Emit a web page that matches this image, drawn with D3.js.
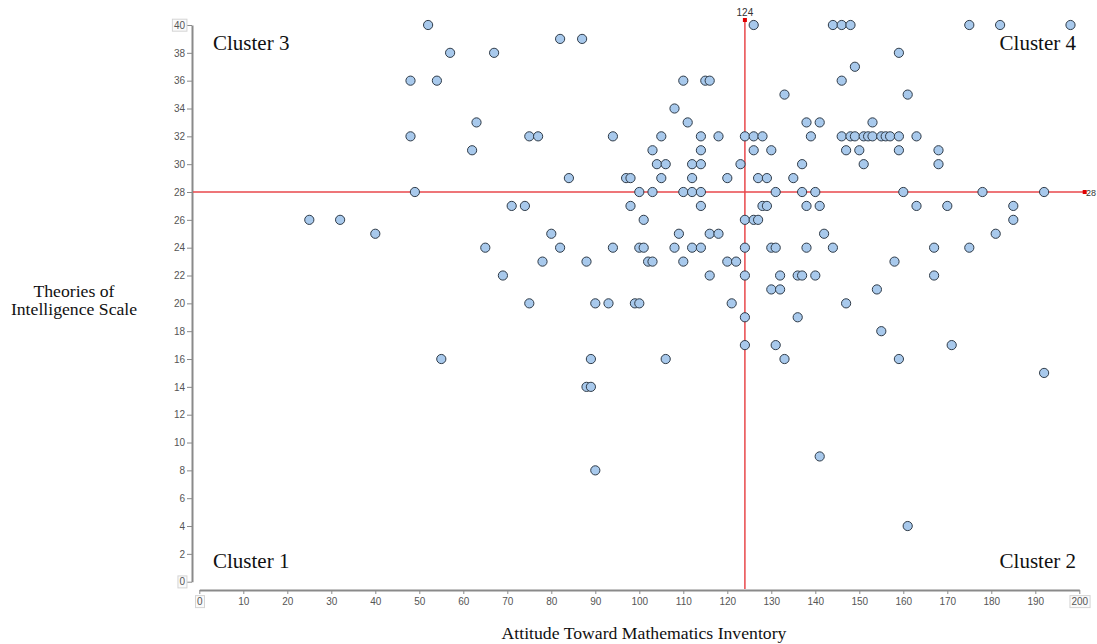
<!DOCTYPE html>
<html>
<head>
<meta charset="utf-8">
<script src="https://cdn.jsdelivr.net/npm/d3@7"></script>
<style>
  html, body { margin: 0; padding: 0; background: #fff; overflow: hidden; }
  svg { display: block; }
</style>
</head>
<body>
<svg id="chart" width="1097" height="644"></svg>
<script>
// ---- Data ----
const xTitle = "Attitude Toward Mathematics Inventory";
const yTitleLines = ["Theories of", "Intelligence Scale"];
const clusterLabels = ["Cluster 1", "Cluster 2", "Cluster 3", "Cluster 4"];
const xTicks = [0, 10, 20, 30, 40, 50, 60, 70, 80, 90, 100, 110, 120, 130, 140, 150, 160, 170, 180, 190, 200];
const yTicks = [0, 2, 4, 6, 8, 10, 12, 14, 16, 18, 20, 22, 24, 26, 28, 30, 32, 34, 36, 38, 40];
const xCut = 124;   // vertical divider (ATMI)
const yCut = 28;    // horizontal divider (TIS)

// Points grouped by Theories of Intelligence score (y) -> list of ATMI scores (x)
const yLevels = [40, 39, 38, 37, 36, 35, 34, 33, 32, 31, 30, 29, 28, 27, 26, 25, 24, 23, 22, 21, 20, 19, 18, 17, 16, 15, 14, 9, 8, 4];
const xAtLevel = [
  [52, 126, 144, 146, 148, 175, 182, 198],
  [82, 87],
  [57, 67, 159],
  [149],
  [48, 54, 110, 115, 116, 146],
  [133, 161],
  [108],
  [63, 111, 138, 141, 153],
  [48, 75, 77, 94, 105, 114, 118, 124, 126, 128, 139, 146, 148, 149, 151, 152, 153, 155, 156, 157, 159, 163],
  [62, 103, 114, 126, 130, 147, 150, 159, 168],
  [104, 106, 112, 114, 123, 137, 151, 168],
  [84, 97, 98, 105, 112, 120, 127, 129, 135],
  [49, 100, 103, 110, 112, 114, 131, 137, 140, 160, 178, 192],
  [71, 74, 98, 114, 128, 129, 138, 141, 163, 170, 185],
  [25, 32, 101, 124, 126, 127, 185],
  [40, 80, 109, 116, 118, 142, 181],
  [65, 82, 94, 100, 101, 108, 112, 114, 124, 130, 131, 138, 144, 167, 175],
  [78, 88, 102, 103, 110, 120, 122, 158],
  [69, 116, 124, 132, 136, 137, 140, 167],
  [130, 132, 154],
  [75, 90, 93, 99, 100, 121, 147],
  [124, 136],
  [155],
  [124, 131, 171],
  [55, 89, 106, 133, 159],
  [192],
  [88, 89],
  [141],
  [90],
  [161]
];

const points = [];
yLevels.forEach((yv, i) => xAtLevel[i].forEach(xv => points.push({ x: xv, y: yv })));

// ---- Layout ----
const svg = d3.select("#chart");
const x = d3.scaleLinear().domain([0, 200]).range([199.3, 1079.3]);
const y = d3.scaleLinear().domain([0, 40]).range([581.7, 25]);
const yAxisX = 192;
const xAxisY = 590;

const tickFont = "'Liberation Sans', Arial, sans-serif";
const serif = "'Liberation Serif', 'Times New Roman', serif";

// Y axis
const gy = svg.append("g")
  .attr("transform", `translate(${yAxisX},0)`)
  .call(d3.axisLeft(y).tickValues(yTicks).tickSize(5).tickSizeOuter(0).tickPadding(2));
gy.select(".domain").attr("stroke", "#8a8a8a").attr("stroke-width", 2);
gy.selectAll(".tick line").attr("stroke", "#8a8a8a");
gy.selectAll(".tick text").attr("fill", "#555").style("font-family", tickFont).style("font-size", "10px");

// X axis
const gx = svg.append("g")
  .attr("transform", `translate(0,${xAxisY})`)
  .call(d3.axisBottom(x).tickValues(xTicks).tickSize(4).tickSizeOuter(0).tickPadding(4));
gx.select(".domain").attr("stroke", "#8a8a8a").attr("stroke-width", 2);
gx.selectAll(".tick line").attr("stroke", "#8a8a8a");
gx.selectAll(".tick text").attr("fill", "#555").style("font-family", tickFont).style("font-size", "10px");

// Light boxes around the first / last tick labels
function boxLabel(textNode) {
  const bb = textNode.getBBox();
  const parent = d3.select(textNode.parentNode);
  parent.insert("rect", "text")
    .attr("x", bb.x - 1.5).attr("y", bb.y - 0.5)
    .attr("width", bb.width + 3).attr("height", bb.height + 1)
    .attr("fill", "#fafafa").attr("stroke", "#d4d4d4").attr("stroke-width", 1);
}
[gy, gx].forEach(g => {
  const texts = g.selectAll(".tick text").nodes();
  boxLabel(texts[0]);
  boxLabel(texts[texts.length - 1]);
});

// Divider lines (red)
const redCol = "#e8474b";
svg.append("line")
  .attr("x1", x(xCut)).attr("x2", x(xCut))
  .attr("y1", y(40) - 5).attr("y2", xAxisY - 1)
  .attr("stroke", redCol).attr("stroke-width", 1.5);
svg.append("line")
  .attr("x1", yAxisX + 1).attr("x2", x(200) + 5.4)
  .attr("y1", y(yCut)).attr("y2", y(yCut))
  .attr("stroke", redCol).attr("stroke-width", 1.5);

// Points
svg.append("g").selectAll("circle")
  .data(points)
  .join("circle")
  .attr("cx", d => x(d.x))
  .attr("cy", d => y(d.y))
  .attr("r", 4.6)
  .attr("fill", "#a8c9ec")
  .attr("stroke", "#2f3b48")
  .attr("stroke-width", 1);

// Divider end markers + labels
svg.append("rect")
  .attr("x", x(xCut) - 2).attr("y", y(40) - 7).attr("width", 4).attr("height", 4)
  .attr("fill", "#e00000");
svg.append("text")
  .attr("x", x(xCut)).attr("y", y(40) - 9)
  .attr("text-anchor", "middle")
  .style("font-family", tickFont).style("font-size", "10px").attr("fill", "#333")
  .text(xCut);
svg.append("rect")
  .attr("x", x(200) + 3.4).attr("y", y(yCut) - 2).attr("width", 4).attr("height", 4)
  .attr("fill", "#e00000");
svg.append("text")
  .attr("x", 1096).attr("y", y(yCut) + 3.5)
  .attr("text-anchor", "end")
  .style("font-family", tickFont).style("font-size", "9px").attr("fill", "#333")
  .text(yCut);

// Cluster labels
const clusterPos = [
  { t: clusterLabels[0], x: 213, y: 568, a: "start" },
  { t: clusterLabels[1], x: 1076, y: 568, a: "end" },
  { t: clusterLabels[2], x: 213, y: 50, a: "start" },
  { t: clusterLabels[3], x: 1076, y: 50, a: "end" }
];
svg.append("g").selectAll("text")
  .data(clusterPos)
  .join("text")
  .attr("x", d => d.x).attr("y", d => d.y)
  .attr("text-anchor", d => d.a)
  .style("font-family", serif).style("font-size", "21px").attr("fill", "#111")
  .text(d => d.t);

// Axis titles
svg.append("text")
  .attr("x", 644).attr("y", 639)
  .attr("text-anchor", "middle")
  .style("font-family", serif).style("font-size", "17.7px").attr("fill", "#111")
  .text(xTitle);

svg.append("g").selectAll("text")
  .data(yTitleLines)
  .join("text")
  .attr("x", 74).attr("y", (d, i) => 297 + i * 18)
  .attr("text-anchor", "middle")
  .style("font-family", serif).style("font-size", "17.7px").attr("fill", "#111")
  .text(d => d);
</script>
</body>
</html>
